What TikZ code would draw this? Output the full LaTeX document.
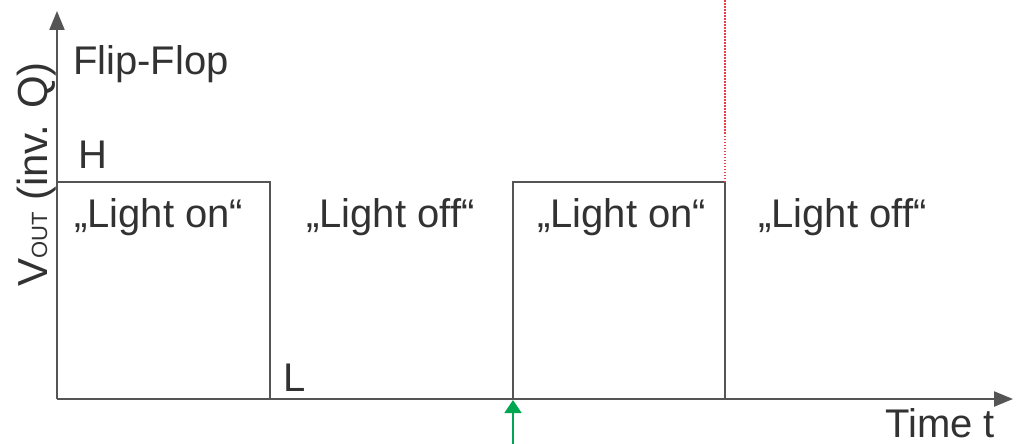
\documentclass[tikz,border=0pt]{standalone}
\usepackage{fontspec}
\setmainfont{Liberation Sans}
\usetikzlibrary{arrows.meta}
\definecolor{linegray}{RGB}{85,85,85}
\definecolor{txtgray}{RGB}{50,50,50}
\definecolor{arrgreen}{RGB}{0,166,80}
\definecolor{dotred}{RGB}{235,60,70}
\begin{document}
\begin{tikzpicture}[x=1pt,y=-1pt,
  lbl/.style={inner sep=0pt, anchor=base west, text=txtgray, font=\fontsize{40}{44}\selectfont},
  axis/.style={draw=linegray, line width=2.2pt, -{Triangle[length=19pt,width=15pt]}},
  wave/.style={draw=linegray, line width=2pt},
]
\useasboundingbox (0,0) rectangle (1021,444);
\coordinate (O) at (57,399);
\coordinate (ytip) at (57,11);
\coordinate (xtip) at (1013,399);
\coordinate (h1) at (57,182);
\coordinate (e1) at (270,182);
\coordinate (f1) at (270,399);
\coordinate (r2) at (513,399);
\coordinate (s2) at (513,182);
\coordinate (e2) at (725,182);
\coordinate (f2) at (725,399);
\coordinate (top) at (725,0);
\coordinate (gstart) at (513,444);
\coordinate (gend) at (513,400);
% waveform
\draw[wave] (h1) -- (e1) -- (f1);
\draw[wave] (r2) -- (s2) -- (e2) -- (f2);
% axes
\draw[axis] (O) -- (ytip);
\draw[axis] (O) -- (xtip);
% red dotted marker
\draw[dotred, line width=1.2pt, dash pattern=on 1.5pt off 1.5pt] (e2) -- (top);
% green arrow
\draw[arrgreen, line width=1.6pt, -{Triangle[length=13pt,width=17pt]}] (gstart) -- (gend);
% labels
\node[lbl] (ff) at (73,75) {Flip-Flop};
\node[lbl] (H) at (78,168) {H};
\node[lbl] (L) at (283,391) {L};
\node[lbl] (on1) at (74,227) {„Light on“};
\node[lbl] (off1) at (306,227) {„Light off“};
\node[lbl] (on2) at (537,227) {„Light on“};
\node[lbl] (off2) at (758,227) {„Light off“};
\node[lbl] (time) at (885,437) {Time t};
\node[lbl, rotate=90, font=\fontsize{42}{46}\selectfont] (vout) at (47,287) {V{\fontsize{22}{24}\selectfont OUT} (inv. Q)};
\end{tikzpicture}
\end{document}
